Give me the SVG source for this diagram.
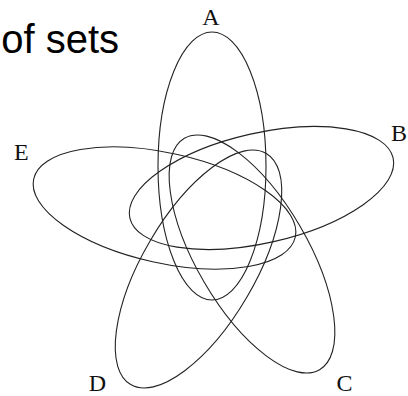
<svg xmlns="http://www.w3.org/2000/svg" width="408" height="396" viewBox="0 0 408 396">
<style>
.set{fill:none;stroke:#222;stroke-width:1.1}
.lbl{font-family:"Liberation Serif","Times New Roman",serif;font-size:24px;fill:#111}
.title{font-family:"Liberation Sans",Arial,sans-serif;font-size:40px;fill:#000}
</style>
<rect width="408" height="396" fill="#fff"/>
<text class="title" x="119" y="53" text-anchor="end">of sets</text>
<g id="set-A">
<ellipse class="set" cx="212" cy="166" rx="54" ry="134"/>
<text class="lbl" x="211" y="25" text-anchor="middle">A</text>
</g>
<g id="set-B">
<ellipse class="set" cx="261.5" cy="188" rx="135" ry="55" transform="rotate(-12.85 261.5 188)"/>
<text class="lbl" x="391" y="141">B</text>
</g>
<g id="set-C">
<ellipse class="set" cx="252" cy="254" rx="134" ry="55.5" transform="rotate(59.7 252 254)"/>
<text class="lbl" x="344.5" y="391" text-anchor="middle">C</text>
</g>
<g id="set-D">
<ellipse class="set" cx="198.5" cy="269" rx="134" ry="56" transform="rotate(-59.6 198.5 269)"/>
<text class="lbl" x="97.5" y="391" text-anchor="middle">D</text>
</g>
<g id="set-E">
<ellipse class="set" cx="164.5" cy="208" rx="134" ry="55" transform="rotate(12.5 164.5 208)"/>
<text class="lbl" x="14" y="160">E</text>
</g>
</svg>
